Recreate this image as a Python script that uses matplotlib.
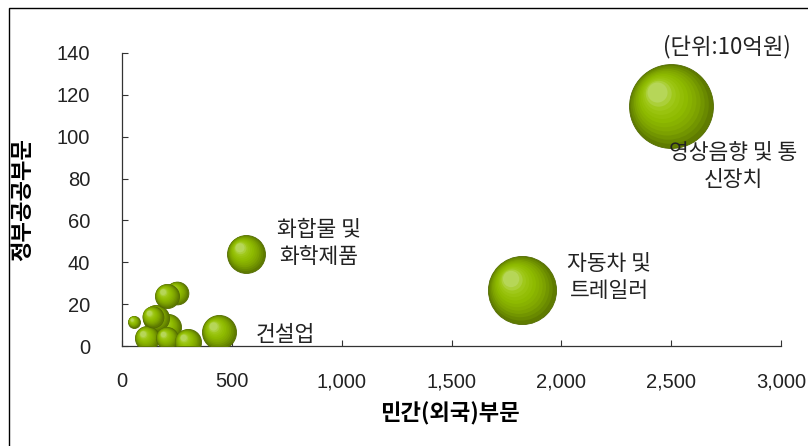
import matplotlib
matplotlib.use("Agg")
import matplotlib.pyplot as plt
from matplotlib.colors import LinearSegmentedColormap
from matplotlib.patches import Rectangle
from matplotlib.ticker import FuncFormatter

KR = ["Noto Sans CJK KR", "DejaVu Sans"]
NUM = ["Liberation Sans", "DejaVu Sans"]

# 산업별 연구개발 투자 (단위: 10억원)
industry = ["영상음향 및 통\n신장치", "자동차 및\n트레일러", "화합물 및\n화학제품",
            "", "", "", "", "", "", "", "건설업", "", "", ""]
private = [2499, 1821, 565, 209, 155, 114, 205, 300, 250, 205, 442, 140, 55, 0]
public = [114.7, 26.8, 44.0, 9.1, 13.4, 3.8, 3.8, 1.9, 25.3, 23.9, 6.7, 14.0, 11.5, 0]
total = [1760, 1160, 360, 170, 170, 145, 120, 170, 130, 145, 290, 110, 36, 0]

x_ticks = [0, 500, 1000, 1500, 2000, 2500, 3000]
y_ticks = [0, 20, 40, 60, 80, 100, 120, 140]

# 라벨 위치 (버블 중심 기준, 픽셀)
label_offset = {0: (62, -61), 1: (87, 12), 2: (73, 10), 10: (66, -3)}

DPI = 100
fig = plt.figure(figsize=(8.08, 4.46), dpi=DPI)
ax = fig.add_axes([122 / 808, 1 - 346 / 446, 659 / 808, 293 / 446])
ax.set_xlim(0, 3000)
ax.set_ylim(0, 140)

# 데이터 단위 / 픽셀
px_x = 3000 / 659
px_y = 140 / 293

cmap = LinearSegmentedColormap.from_list(
    "bubble",
    [(0.0, "#5f7b00"), (0.12, "#6c8d00"), (0.3, "#7fa500"),
     (0.55, "#8eba00"), (0.8, "#9dc613"), (1.0, "#b6d658")])

n_layers = 12
for i, (x, y, v) in enumerate(zip(private, public, total)):
    if v <= 0:
        continue
    r = v ** 0.5
    for k in range(n_layers):
        t = k / (n_layers - 1)
        rr = r * (1 - 0.76 * t)
        shift = r * 0.32 * t
        ax.scatter(x - shift * px_x, y + shift * px_y,
                   s=(2 * rr * 72 / DPI) ** 2, color=cmap(t),
                   edgecolors="#526b00" if k == 0 else "none",
                   linewidths=0.6 if k == 0 else 0,
                   zorder=3 + i)
    if i in label_offset:
        ax.annotate(industry[i], (x, y), xytext=label_offset[i],
                    textcoords="offset pixels", ha="center", va="center",
                    fontsize=15.5, family=KR, color="#222222",
                    linespacing=1.3, annotation_clip=False, zorder=30)

ax.text(2754, 143.3, "(단위:10억원)", ha="center", va="center",
        fontsize=16, family=KR, color="#222222", clip_on=False)

ax.set_xticks(x_ticks)
ax.set_yticks(y_ticks)
ax.xaxis.set_major_formatter(FuncFormatter(lambda v, p: f"{int(v):,}"))
ax.tick_params(direction="in", length=4.5, width=0.8, colors="#333333",
               labelsize=14.5, labelcolor="#222222")
ax.tick_params(axis="y", pad=23)
ax.tick_params(axis="x", pad=19)
for lab in ax.get_xticklabels() + ax.get_yticklabels():
    lab.set_family(NUM)

for side in ["top", "right"]:
    ax.spines[side].set_visible(False)
for side in ["left", "bottom"]:
    ax.spines[side].set_linewidth(0.9)
    ax.spines[side].set_color("#333333")

ax.set_xlabel("민간(외국)부문", fontsize=16, fontweight="bold", family=KR)
ax.set_ylabel("정부공공부문", fontsize=16, fontweight="bold", family=KR)
ax.xaxis.set_label_coords(0.497, -0.19)
ax.yaxis.set_label_coords(-0.133, 0.5)

# 외곽 테두리
fig.add_artist(Rectangle((9 / 808, -0.1), 1.2, 1.1 - 8 / 446,
                         transform=fig.transFigure, fill=False,
                         edgecolor="black", linewidth=1.0))

fig.savefig("out.png", dpi=DPI)
